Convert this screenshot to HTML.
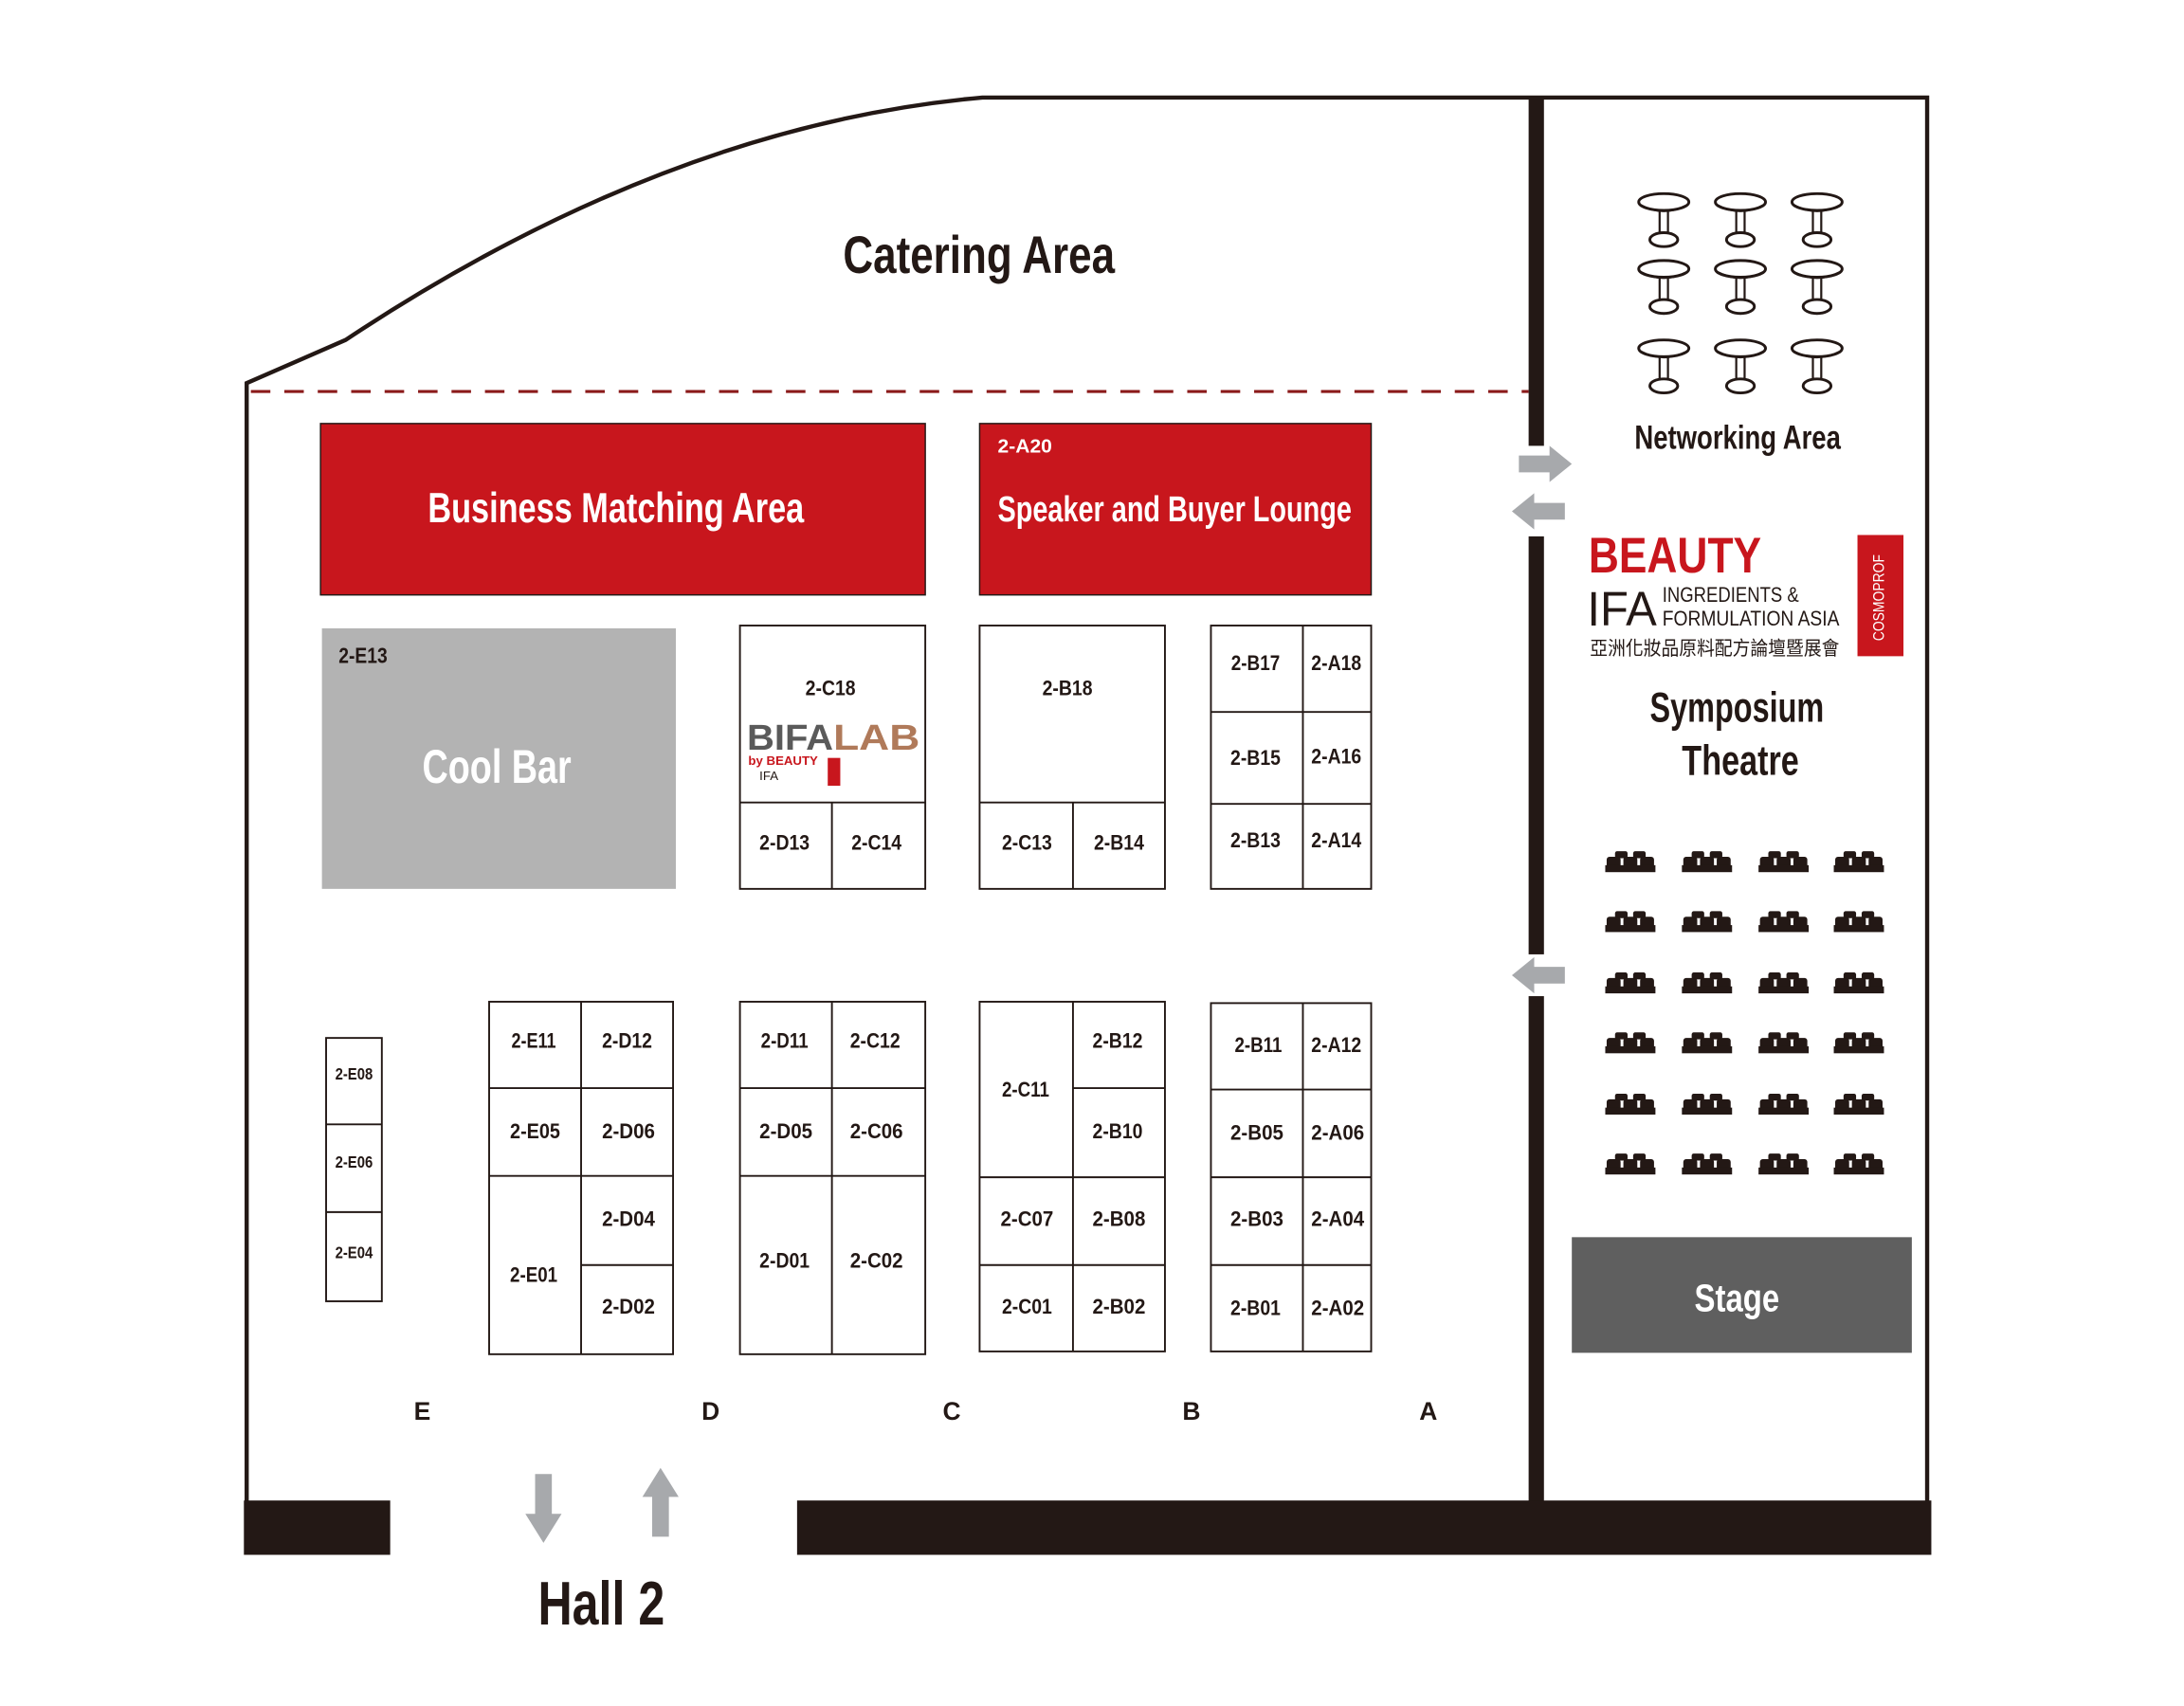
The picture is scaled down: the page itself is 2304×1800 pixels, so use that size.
<!DOCTYPE html>
<html><head><meta charset="utf-8"><style>
html,body{margin:0;padding:0;background:#fff}
svg{display:block}
text{font-family:"Liberation Sans",sans-serif;font-weight:bold;fill:#231815}
</style></head><body>
<svg width="2304" height="1800" viewBox="0 0 1567.3 1224.5" xmlns="http://www.w3.org/2000/svg">
<defs>
<g id="tb">
<rect x="-3" y="4" width="6" height="18" fill="#fff" stroke="#231815" stroke-width="1.5"/>
<ellipse cx="0" cy="27" rx="10" ry="5" fill="#fff" stroke="#231815" stroke-width="2"/>
<ellipse cx="0" cy="0" rx="18" ry="6" fill="#fff" stroke="#231815" stroke-width="2"/>
<path d="M-17,2 Q0,11 17,2" fill="none" stroke="#231815" stroke-width="1.5"/>
</g>
<g id="st" fill="#231815">
<rect x="-11" y="-8" width="9" height="5" rx="1.5"/>
<rect x="2" y="-8" width="9" height="5" rx="1.5"/>
<rect x="-17" y="-4" width="10" height="9" rx="2"/>
<rect x="-5" y="-4" width="10" height="9" rx="2"/>
<rect x="7" y="-4" width="10" height="9" rx="2"/>
<rect x="-18" y="2" width="36" height="5"/>
</g>
<polygon id="ar" points="0,-6 22,-6 22,-13 38,0 22,13 22,6 0,6" fill="#a7a9ac"/>
</defs>

<path d="M177,1078 L177,275 L248,244 Q480,90 705,70 L1383,70 L1383,1078" fill="none" stroke="#231815" stroke-width="3"/>
<line x1="180" y1="281" x2="1097" y2="281" stroke="#8b1a1a" stroke-width="2.2" stroke-dasharray="14,10"/>
<rect x="1097" y="70" width="11" height="250" fill="#231815"/>
<rect x="1097" y="385" width="11" height="300" fill="#231815"/>
<rect x="1097" y="715" width="11" height="363" fill="#231815"/>
<rect x="175" y="1077" width="105" height="39" fill="#231815"/>
<rect x="572" y="1077" width="814" height="39" fill="#231815"/>

<use href="#ar" transform="translate(1090,333)"/>
<use href="#ar" transform="translate(1123,367) scale(-1,1)"/>
<use href="#ar" transform="translate(1123,700) scale(-1,1)"/>
<use href="#ar" transform="translate(390,1058) rotate(90) scale(1.3,1)"/>
<use href="#ar" transform="translate(474,1103) rotate(-90) scale(1.3,1)"/>

<text x="605" y="196" font-size="38" textLength="195" lengthAdjust="spacingAndGlyphs">Catering Area</text>

<rect x="230" y="304" width="434" height="123" fill="#c8161d" stroke="#231815" stroke-width="1"/>
<text x="307" y="375" font-size="30" textLength="270" lengthAdjust="spacingAndGlyphs" style="fill:#fff">Business Matching Area</text>
<rect x="703" y="304" width="281" height="123" fill="#c8161d" stroke="#231815" stroke-width="1"/>
<text x="716" y="325" font-size="14" textLength="39" lengthAdjust="spacingAndGlyphs" style="fill:#fff">2-A20</text>
<text x="716" y="374" font-size="26" textLength="254" lengthAdjust="spacingAndGlyphs" style="fill:#fff">Speaker and Buyer Lounge</text>

<rect x="231" y="451" width="254" height="187" fill="#b3b3b3"/>
<text x="243" y="476" font-size="16" textLength="35" lengthAdjust="spacingAndGlyphs">2-E13</text>
<text x="303" y="562" font-size="34" textLength="107" lengthAdjust="spacingAndGlyphs" style="fill:#fff">Cool Bar</text>

<g fill="none" stroke="#231815" stroke-width="1.3">
<rect x="531" y="449" width="133" height="189"/>
<line x1="531" y1="576" x2="664" y2="576"/><line x1="597" y1="576" x2="597" y2="638"/>
<rect x="703" y="449" width="133" height="189"/>
<line x1="703" y1="576" x2="836" y2="576"/><line x1="770" y1="576" x2="770" y2="638"/>
<rect x="869" y="449" width="115" height="189"/>
<line x1="935" y1="449" x2="935" y2="638"/><line x1="869" y1="511" x2="984" y2="511"/><line x1="869" y1="577" x2="984" y2="577"/>
<rect x="234" y="745" width="40" height="189"/>
<line x1="234" y1="807" x2="274" y2="807"/><line x1="234" y1="870" x2="274" y2="870"/>
<rect x="351" y="719" width="132" height="253"/>
<line x1="417" y1="719" x2="417" y2="972"/><line x1="351" y1="781" x2="483" y2="781"/><line x1="351" y1="844" x2="483" y2="844"/><line x1="417" y1="908" x2="483" y2="908"/>
<rect x="531" y="719" width="133" height="253"/>
<line x1="597" y1="719" x2="597" y2="972"/><line x1="531" y1="781" x2="664" y2="781"/><line x1="531" y1="844" x2="664" y2="844"/>
<rect x="703" y="719" width="133" height="251"/>
<line x1="770" y1="719" x2="770" y2="970"/><line x1="770" y1="781" x2="836" y2="781"/><line x1="703" y1="845" x2="836" y2="845"/><line x1="703" y1="908" x2="836" y2="908"/>
<rect x="869" y="720" width="115" height="250"/>
<line x1="935" y1="720" x2="935" y2="970"/><line x1="869" y1="782" x2="984" y2="782"/><line x1="869" y1="845" x2="984" y2="845"/><line x1="869" y1="908" x2="984" y2="908"/>
</g>

<g font-size="15" text-anchor="middle" lengthAdjust="spacingAndGlyphs">
<text x="596" y="499" textLength="36" lengthAdjust="spacingAndGlyphs">2-C18</text>
<text x="563" y="610" textLength="36" lengthAdjust="spacingAndGlyphs">2-D13</text><text x="629" y="610" textLength="36" lengthAdjust="spacingAndGlyphs">2-C14</text>
<text x="766" y="499" textLength="36" lengthAdjust="spacingAndGlyphs">2-B18</text>
<text x="737" y="610" textLength="36" lengthAdjust="spacingAndGlyphs">2-C13</text><text x="803" y="610" textLength="36" lengthAdjust="spacingAndGlyphs">2-B14</text>
<text x="901" y="481" textLength="35" lengthAdjust="spacingAndGlyphs">2-B17</text><text x="959" y="481" textLength="36" lengthAdjust="spacingAndGlyphs">2-A18</text>
<text x="901" y="549" textLength="36" lengthAdjust="spacingAndGlyphs">2-B15</text><text x="959" y="548" textLength="36" lengthAdjust="spacingAndGlyphs">2-A16</text>
<text x="901" y="608" textLength="36" lengthAdjust="spacingAndGlyphs">2-B13</text><text x="959" y="608" textLength="36" lengthAdjust="spacingAndGlyphs">2-A14</text>
<text x="254" y="775" font-size="12" textLength="27" lengthAdjust="spacingAndGlyphs">2-E08</text>
<text x="254" y="838" font-size="12" textLength="27" lengthAdjust="spacingAndGlyphs">2-E06</text>
<text x="254" y="903" font-size="12" textLength="27" lengthAdjust="spacingAndGlyphs">2-E04</text>
<text x="383" y="752" textLength="32" lengthAdjust="spacingAndGlyphs">2-E11</text><text x="450" y="752" textLength="36" lengthAdjust="spacingAndGlyphs">2-D12</text>
<text x="384" y="817" textLength="36" lengthAdjust="spacingAndGlyphs">2-E05</text><text x="451" y="817" textLength="38" lengthAdjust="spacingAndGlyphs">2-D06</text>
<text x="451" y="880" textLength="38" lengthAdjust="spacingAndGlyphs">2-D04</text><text x="383" y="920" textLength="34" lengthAdjust="spacingAndGlyphs">2-E01</text><text x="451" y="943" textLength="38" lengthAdjust="spacingAndGlyphs">2-D02</text>
<text x="563" y="752" textLength="34" lengthAdjust="spacingAndGlyphs">2-D11</text><text x="628" y="752" textLength="36" lengthAdjust="spacingAndGlyphs">2-C12</text>
<text x="564" y="817" textLength="38" lengthAdjust="spacingAndGlyphs">2-D05</text><text x="629" y="817" textLength="38" lengthAdjust="spacingAndGlyphs">2-C06</text>
<text x="563" y="910" textLength="36" lengthAdjust="spacingAndGlyphs">2-D01</text><text x="629" y="910" textLength="38" lengthAdjust="spacingAndGlyphs">2-C02</text>
<text x="736" y="787" textLength="34" lengthAdjust="spacingAndGlyphs">2-C11</text><text x="802" y="752" textLength="36" lengthAdjust="spacingAndGlyphs">2-B12</text><text x="802" y="817" textLength="36" lengthAdjust="spacingAndGlyphs">2-B10</text>
<text x="737" y="880" textLength="38" lengthAdjust="spacingAndGlyphs">2-C07</text><text x="803" y="880" textLength="38" lengthAdjust="spacingAndGlyphs">2-B08</text>
<text x="737" y="943" textLength="36" lengthAdjust="spacingAndGlyphs">2-C01</text><text x="803" y="943" textLength="38" lengthAdjust="spacingAndGlyphs">2-B02</text>
<text x="903" y="755" textLength="34" lengthAdjust="spacingAndGlyphs">2-B11</text><text x="959" y="755" textLength="36" lengthAdjust="spacingAndGlyphs">2-A12</text>
<text x="902" y="818" textLength="38" lengthAdjust="spacingAndGlyphs">2-B05</text><text x="960" y="818" textLength="38" lengthAdjust="spacingAndGlyphs">2-A06</text>
<text x="902" y="880" textLength="38" lengthAdjust="spacingAndGlyphs">2-B03</text><text x="960" y="880" textLength="38" lengthAdjust="spacingAndGlyphs">2-A04</text>
<text x="901" y="944" textLength="36" lengthAdjust="spacingAndGlyphs">2-B01</text><text x="960" y="944" textLength="38" lengthAdjust="spacingAndGlyphs">2-A02</text>
</g>

<text x="536" y="538" font-size="26" textLength="62" lengthAdjust="spacingAndGlyphs" style="fill:#5a5a5a">BIFA</text>
<text x="598" y="538" font-size="26" textLength="62" lengthAdjust="spacingAndGlyphs" style="fill:#b07a5a">LAB</text>
<text x="537" y="549" font-size="9" style="fill:#c8161d">by BEAUTY</text>
<text x="545" y="560" font-size="9" style="font-weight:normal">IFA</text>
<rect x="594" y="544" width="9" height="20" fill="#c8161d"/>

<g font-size="18" text-anchor="middle">
<text x="303" y="1019">E</text><text x="510" y="1019">D</text><text x="683" y="1019">C</text><text x="855" y="1019">B</text><text x="1025" y="1019">A</text>
</g>
<text x="386" y="1166" font-size="44" textLength="91" lengthAdjust="spacingAndGlyphs">Hall 2</text>

<g>
<use href="#tb" x="1194" y="145"/><use href="#tb" x="1249" y="145"/><use href="#tb" x="1304" y="145"/>
<use href="#tb" x="1194" y="193"/><use href="#tb" x="1249" y="193"/><use href="#tb" x="1304" y="193"/>
<use href="#tb" x="1194" y="250"/><use href="#tb" x="1249" y="250"/><use href="#tb" x="1304" y="250"/>
</g>
<text x="1173" y="322" font-size="24" textLength="148" lengthAdjust="spacingAndGlyphs">Networking Area</text>

<text x="1140" y="411" font-size="36" style="fill:#c8161d" textLength="124" lengthAdjust="spacingAndGlyphs">BEAUTY</text>
<text x="1139" y="449" font-size="35" style="font-weight:normal" textLength="50" lengthAdjust="spacingAndGlyphs">IFA</text>
<text x="1193" y="432" font-size="15" style="font-weight:normal" textLength="98" lengthAdjust="spacingAndGlyphs">INGREDIENTS &amp;</text>
<text x="1193" y="449" font-size="15" style="font-weight:normal" textLength="127" lengthAdjust="spacingAndGlyphs">FORMULATION ASIA</text>
<text x="1141" y="470" font-size="14" style="font-family:'Liberation Sans','Noto Sans CJK TC',sans-serif;font-weight:normal" textLength="179" lengthAdjust="spacingAndGlyphs">亞洲化妝品原料配方論壇暨展會</text>
<rect x="1333" y="384" width="33" height="87" fill="#c8161d"/>
<text transform="translate(1352,460) rotate(-90)" font-size="11" style="fill:#fff;font-weight:normal" textLength="62" lengthAdjust="spacingAndGlyphs">COSMOPROF</text>

<text x="1184" y="518" font-size="30" textLength="125" lengthAdjust="spacingAndGlyphs">Symposium</text>
<text x="1207" y="556" font-size="30" textLength="84" lengthAdjust="spacingAndGlyphs">Theatre</text>

<g>
<use href="#st" x="1170" y="619"/><use href="#st" x="1225" y="619"/><use href="#st" x="1280" y="619"/><use href="#st" x="1334" y="619"/>
<use href="#st" x="1170" y="662"/><use href="#st" x="1225" y="662"/><use href="#st" x="1280" y="662"/><use href="#st" x="1334" y="662"/>
<use href="#st" x="1170" y="706"/><use href="#st" x="1225" y="706"/><use href="#st" x="1280" y="706"/><use href="#st" x="1334" y="706"/>
<use href="#st" x="1170" y="749"/><use href="#st" x="1225" y="749"/><use href="#st" x="1280" y="749"/><use href="#st" x="1334" y="749"/>
<use href="#st" x="1170" y="793"/><use href="#st" x="1225" y="793"/><use href="#st" x="1280" y="793"/><use href="#st" x="1334" y="793"/>
<use href="#st" x="1170" y="836"/><use href="#st" x="1225" y="836"/><use href="#st" x="1280" y="836"/><use href="#st" x="1334" y="836"/>
</g>

<rect x="1128" y="888" width="244" height="83" fill="#5f5f5f"/>
<text x="1216" y="941" font-size="28" textLength="61" lengthAdjust="spacingAndGlyphs" style="fill:#fff">Stage</text>
</svg>
</body></html>
